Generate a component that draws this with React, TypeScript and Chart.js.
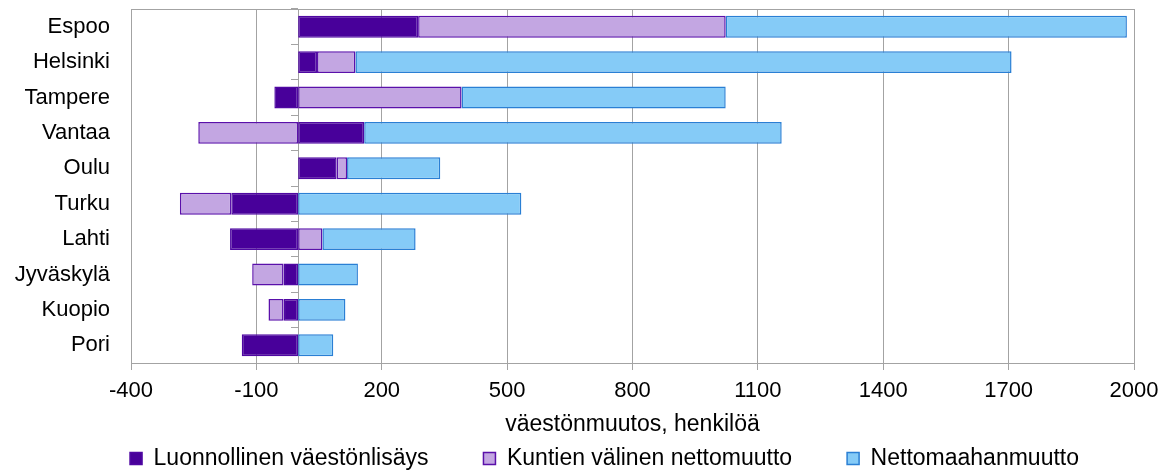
import React, { useEffect, useRef } from 'react';
import { Chart, registerables } from 'chart.js';

Chart.register(...registerables);

const cities = ['Espoo', 'Helsinki', 'Tampere', 'Vantaa', 'Oulu', 'Turku', 'Lahti', 'Jyväskylä', 'Kuopio', 'Pori'];
const naturalIncrease = [287, 45, -57, 158, 92, -160, -163, -35, -35, -135];
const internalMigration = [736, 92, 391, -239, 25, -123, 58, -75, -36, 0];
const netImmigration = [960, 1570, 632, 999, 223, 534, 223, 143, 113, 84];
const seriesNames = ['Luonnollinen väestönlisäys', 'Kuntien välinen nettomuutto', 'Nettomaahanmuutto'];
const xTicks = [-400, -100, 200, 500, 800, 1100, 1400, 1700, 2000];
const xTitle = 'väestönmuutos, henkilöä';

const FONT = "'Liberation Sans', Arial, sans-serif";
const GRID = '#a3a3a3';

export default function App() {
  const ref = useRef<HTMLCanvasElement>(null);

  useEffect(() => {
    if (!ref.current) return;
    const font = { family: FONT, size: 22 };
    const bigFont = { family: FONT, size: 23 };
    const chart = new Chart(ref.current, {
      type: 'bar',
      data: {
        labels: cities,
        datasets: [
          {
            label: seriesNames[0],
            data: naturalIncrease,
            backgroundColor: '#48009a',
            borderColor: '#4f08a2',
            borderWidth: 1.5,
            borderSkipped: false,
          },
          {
            label: seriesNames[1],
            data: internalMigration,
            backgroundColor: '#c3a6e2',
            borderColor: '#5a10aa',
            borderWidth: 1.5,
            borderSkipped: false,
          },
          {
            label: seriesNames[2],
            data: netImmigration,
            backgroundColor: '#85cbf7',
            borderColor: '#2a7fd4',
            borderWidth: 1.5,
            borderSkipped: false,
          },
        ],
      },
      options: {
        indexAxis: 'y',
        responsive: false,
        animation: false,
        datasets: { bar: { barPercentage: 0.62, categoryPercentage: 1 } },
        layout: { padding: { left: 0, right: 36, top: 9, bottom: 0 } },
        plugins: {
          legend: {
            position: 'bottom',
            align: 'end',
            labels: {
              font: bigFont,
              color: '#000',
              boxWidth: 12,
              boxHeight: 12,
              padding: 55,
            },
            title: {
              display: true,
              text: '',
              font: { size: 10, lineHeight: 1 },
              padding: { top: 0, bottom: -54 },
            },
          },
          tooltip: { enabled: false },
        },
        scales: {
          x: {
            type: 'linear',
            min: -400,
            max: 2000,
            stacked: true,
            afterBuildTicks: (axis: any) => {
              axis.ticks = xTicks.map((v) => ({ value: v }));
            },
            afterFit: (s: any) => {
              s.height = 73;
            },
            ticks: { font, color: '#000', padding: 8, maxRotation: 0, callback: (v: any) => String(v) },
            grid: { color: GRID, tickLength: 7 },
            border: { color: GRID },
            title: { display: true, text: xTitle, font: bigFont, color: '#000', padding: { top: 0, bottom: -2 } },
          },
          x2: {
            type: 'linear',
            position: 'top',
            min: -400,
            max: 2000,
            afterFit: (s: any) => {
              s.height = 0;
            },
            ticks: { display: false },
            grid: { display: false, drawTicks: false },
            border: { display: true, color: GRID },
          },
          y: {
            stacked: true,
            afterFit: (s: any) => {
              s.width = 131;
              s.paddingTop = 0;
              s.paddingBottom = 0;
            },
            ticks: { font, color: '#000', padding: 21, autoSkip: false },
            grid: { display: false, drawTicks: false },
            border: { display: true, color: GRID },
          },
          y2: {
            type: 'category',
            position: { x: 0 },
            offset: true,
            afterFit: (s: any) => {
              s.paddingTop = 0;
              s.paddingBottom = 0;
            },
            ticks: { display: false, autoSkip: false },
            grid: { drawOnChartArea: false, offset: true, color: GRID, tickLength: 7 },
            border: { color: GRID },
          },
        },
      } as any,
    });
    return () => chart.destroy();
  }, []);

  return (
    <div style={{ position: 'fixed', left: 0, top: 0, width: 1170, height: 480, background: '#fff' }}>
      <canvas ref={ref} width={1170} height={480} style={{ display: 'block' }} />
    </div>
  );
}
